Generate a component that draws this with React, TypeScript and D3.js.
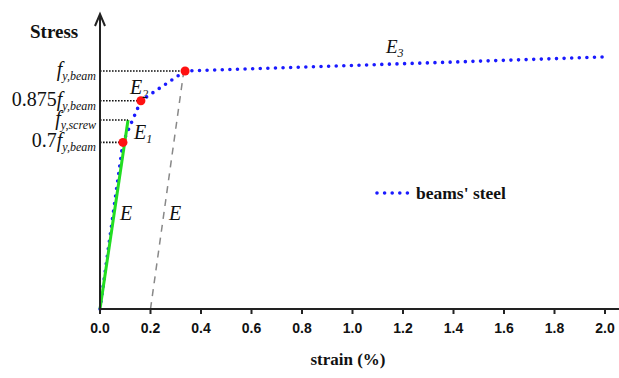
import * as d3 from "d3";
import React from "react";

// strain (%) vs normalised stress (fy,beam = 1)
const strainTicks = [0, 0.2, 0.4, 0.6, 0.8, 1.0, 1.2, 1.4, 1.6, 1.8, 2.0];
const steelStrain = [0, 0.091, 0.162, 0.337, 2.0];
const steelStress = [0, 0.7, 0.875, 1.0, 1.059];
const screwStrain = [0, 0.111];
const screwStress = [0, 0.794];
const offsetStrain = [0.2, 0.332];
const offsetStress = [0, 1.0];
const markerIdx = [1, 2, 3];
const levelValues = [1.0, 0.875, 0.794, 0.7];
const levelPrefix = ["", "0.875", "", "0.7"];
const levelSub = ["y,beam", "y,beam", "y,screw", "y,beam"];
const levelEndStrain = [0.337, 0.162, 0.111, 0.091];

const serif = "'Liberation Serif', 'DejaVu Serif', serif";
const sans = "'Liberation Sans', Arial, sans-serif";

export default function App() {
  const W = 619, H = 378;
  const x = d3.scaleLinear().domain([0, 2]).range([100, 605]);
  const y = d3.scaleLinear().domain([0, 1]).range([309, 71]);

  const line = d3.line<[number, number]>().x(d => x(d[0])).y(d => y(d[1]));
  const steel = line(steelStrain.map((s, i) => [s, steelStress[i]]))!;
  const screw = line(screwStrain.map((s, i) => [s, screwStress[i]]))!;
  const offset = line(offsetStrain.map((s, i) => [s, offsetStress[i]]))!;

  return (
    <svg width={W} height={H} style={{ position: "absolute", left: 0, top: 0, background: "#fff" }}>
      {/* offset line */}
      <path d={offset} fill="none" stroke="#888" strokeWidth={1.5} strokeDasharray="7 6" />
      {/* beams' steel */}
      <path d={steel} fill="none" stroke="#1a1aff" strokeWidth={3.6} strokeLinecap="round" strokeDasharray="0 7.6" />
      {/* screw (green) */}
      <path d={screw} fill="none" stroke="#22dd22" strokeWidth={3} />

      {/* leader lines */}
      {levelValues.map((v, i) => (
        <line key={i} x1={x(0)} x2={x(levelEndStrain[i])} y1={y(v)} y2={y(v)}
          stroke="#111" strokeWidth={1.6} strokeDasharray="1.6 1.4" />
      ))}

      {markerIdx.map(i => (
        <circle key={i} cx={x(steelStrain[i])} cy={y(steelStress[i])} r={4.5} fill="#ff1111" />
      ))}

      {/* axes */}
      <line x1={x(0)} x2={619} y1={y(0)} y2={y(0)} stroke="#222" strokeWidth={2} />
      {strainTicks.map(t => (
        <g key={t} transform={`translate(${x(t)},${y(0)})`}>
          <line y1={0} y2={5} stroke="#222" strokeWidth={2} />
          <text y={24} textAnchor="middle" fontFamily={sans} fontWeight="bold" fontSize={14} fill="#111">
            {t.toFixed(1)}
          </text>
        </g>
      ))}
      <line x1={x(0)} x2={x(0)} y1={y(0)} y2={16} stroke="#222" strokeWidth={2} />
      <path d={`M${x(0) - 5},${26} L${x(0)},${14} L${x(0) + 5},${26}`} fill="none" stroke="#222" strokeWidth={2} />

      {/* y level labels */}
      {levelValues.map((v, i) => (
        <text key={i} x={96} y={y(v) + 5} textAnchor="end" fontFamily={serif} fontSize={20} fill="#111">
          {levelPrefix[i]}
          <tspan fontStyle="italic">f</tspan>
          <tspan fontStyle="italic" fontSize={12} dy={4}>{levelSub[i]}</tspan>
        </text>
      ))}

      <text x={30} y={38} fontFamily={serif} fontWeight="bold" fontSize={19} fill="#111">Stress</text>

      {/* modulus labels */}
      <text x={120} y={220} fontFamily={serif} fontStyle="italic" fontSize={20} fill="#111">E</text>
      <text x={169} y={220} fontFamily={serif} fontStyle="italic" fontSize={20} fill="#111">E</text>
      <text x={134} y={139} fontFamily={serif} fontStyle="italic" fontSize={20} fill="#111">
        E<tspan fontSize={12} dy={4}>1</tspan>
      </text>
      <text x={130} y={94} fontFamily={serif} fontStyle="italic" fontSize={20} fill="#111">
        E<tspan fontSize={12} dy={4}>2</tspan>
      </text>
      <text x={386} y={53} fontFamily={serif} fontStyle="italic" fontSize={19} fill="#111">
        E<tspan fontSize={12} dy={4}>3</tspan>
      </text>

      {/* legend */}
      <line x1={377} x2={408} y1={193} y2={193} stroke="#1a1aff" strokeWidth={3.6} strokeLinecap="round" strokeDasharray="0 7.6" />
      <text x={416} y={199} fontFamily={serif} fontWeight="bold" fontSize={17.5} fill="#111">beams' steel</text>

      <text x={348} y={365} textAnchor="middle" fontFamily={serif} fontWeight="bold" fontSize={17} fill="#111">strain (%)</text>
    </svg>
  );
}
